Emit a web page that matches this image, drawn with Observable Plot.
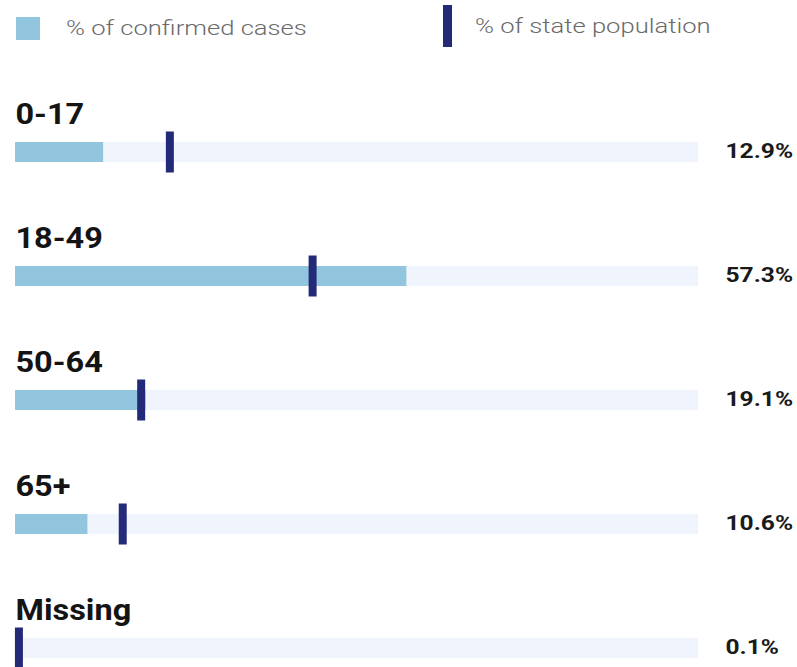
<!DOCTYPE html>
<html>
<head>
<meta charset="utf-8">
<script src="https://cdn.jsdelivr.net/npm/d3@7"></script>
<script src="https://cdn.jsdelivr.net/npm/@observablehq/plot@0.6"></script>
<style>
  html, body { margin: 0; padding: 0; background: #fff; }
  body { width: 797px; height: 667px; overflow: hidden; font-family: Roboto, "Noto Sans", sans-serif; }
  #legend { position: relative; height: 56px; }
  #legend .sw { position: absolute; left: 16px; top: 17px; width: 24px; height: 23px; background: #92c5de; }
  #legend .mk { position: absolute; left: 443px; top: 5px; width: 9px; height: 42px; background: #232a78; }
  #legend .lbl { position: absolute; font-size: 20px; font-weight: 300; color: #6a6a6a; line-height: 1; transform-origin: left center; transform: scaleX(1.28); white-space: nowrap; }
</style>
</head>
<body>
<div id="legend">
  <div class="sw"></div><div class="lbl" id="l1" style="left:66px; top:18px;">% of confirmed cases</div>
  <div class="mk"></div><div class="lbl" id="l2" style="left:475px; top:16px;">% of state population</div>
</div>
<div id="chart"></div>
<script>
const groups = ["0-17", "18-49", "50-64", "65+", "Missing"];
const casePct = [12.9, 57.3, 19.1, 10.6, 0.1];
const popPct = [22.6, 43.5, 18.4, 15.7, 0.5];
const valueLabels = ["12.9%", "57.3%", "19.1%", "10.6%", "0.1%"];

const data = groups.map((g, i) => ({group: g, cases: casePct[i], pop: popPct[i], label: valueLabels[i], lo: 0, hi: 100}));

const plot = Plot.plot({
  width: 797,
  height: 611,
  marginLeft: 15,
  marginRight: 99,
  marginTop: 0,
  marginBottom: 0,
  style: {fontFamily: "Roboto, 'Noto Sans', sans-serif", background: "#fff", overflow: "visible"},
  x: {domain: [0, 100], axis: null},
  y: {domain: groups, range: [86, 602], paddingInner: 0.839, paddingOuter: 0, axis: null},
  marks: [
    Plot.barX(data, {x1: "lo", x2: "hi", y: "group", fill: "#f0f4fc"}),
    Plot.barX(data, {x1: "lo", x2: "cases", y: "group", fill: "#92c5de"}),
    Plot.tickX(data, {x: "pop", y: "group", stroke: "#232a78", strokeWidth: 8, insetTop: -10.5, insetBottom: -10.5}),
    Plot.text(data, {x: "lo", y: "group", text: "group", textAnchor: "start", lineAnchor: "bottom", dy: -29, fontSize: 29, fontWeight: 700, fill: "#141414", className: "grp"}),
    Plot.text(data, {x: "hi", y: "group", text: "label", textAnchor: "start", lineAnchor: "middle", dx: 27, dy: -1, fontSize: 21, fontWeight: 700, fill: "#1a1a1a", className: "val"})
  ]
});
document.getElementById("chart").appendChild(plot);

// horizontal stretch of text to match the reference's wide lettering
function stretch(sel, k) {
  plot.querySelectorAll(sel).forEach(t => {
    const tr = t.getAttribute("transform");
    if (tr) {
      t.setAttribute("transform", tr + ` scale(${k},1)`);
    } else {
      const x = +t.getAttribute("x") || 0;
      t.setAttribute("transform", `translate(${x},0) scale(${k},1) translate(${-x},0)`);
    }
  });
}
stretch("g.grp text", 1.12);
stretch("g.val text", 1.17);
</script>
</body>
</html>
